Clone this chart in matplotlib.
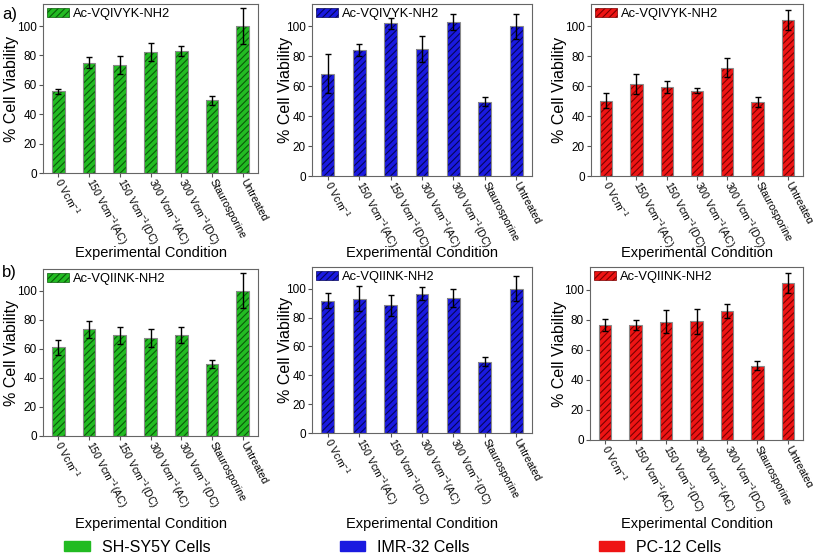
import numpy as np
import matplotlib
matplotlib.use('Agg')
import matplotlib.pyplot as plt
from matplotlib.patches import Patch
from matplotlib.transforms import ScaledTranslation

plt.rcParams['font.family'] = ['Liberation Sans', 'DejaVu Sans']
plt.rcParams['mathtext.fontset'] = 'custom'
plt.rcParams['mathtext.rm'] = 'Liberation Sans'
plt.rcParams['mathtext.it'] = 'Liberation Sans:italic'
plt.rcParams['mathtext.bf'] = 'Liberation Sans:bold'
plt.rcParams['hatch.linewidth'] = 0.8

conditions = ['0 Vcm$^{-1}$', '150 Vcm$^{-1}$(AC)', '150 Vcm$^{-1}$(DC)',
              '300 Vcm$^{-1}$(AC)', '300 Vcm$^{-1}$(DC)', 'Staurosporine', 'Untreated']

# a) Ac-VQIVYK-NH2
vqivyk_shsy5y = [55.5, 75.0, 73.7, 82.4, 83.0, 49.5, 100.0]
vqivyk_shsy5y_err = [2.0, 3.7, 6.0, 6.0, 3.5, 3.0, 12.0]
vqivyk_imr32 = [68.3, 84.0, 102.0, 85.0, 103.0, 49.5, 100.0]
vqivyk_imr32_err = [13.0, 4.0, 3.7, 8.5, 5.5, 3.0, 8.5]
vqivyk_pc12 = [50.3, 61.5, 59.6, 57.1, 72.4, 49.5, 104.2]
vqivyk_pc12_err = [5.0, 6.7, 3.9, 1.8, 6.3, 3.2, 6.7]

# b) Ac-VQIINK-NH2
vqiink_shsy5y = [61.0, 73.4, 69.3, 67.7, 69.3, 49.5, 100.0]
vqiink_shsy5y_err = [5.3, 5.7, 6.0, 6.3, 5.6, 3.0, 12.0]
vqiink_imr32 = [91.7, 93.1, 88.5, 96.6, 93.6, 49.5, 100.0]
vqiink_imr32_err = [5.0, 8.7, 7.4, 4.4, 6.0, 3.0, 8.6]
vqiink_pc12 = [76.2, 76.7, 78.7, 78.9, 85.6, 49.5, 104.4]
vqiink_pc12_err = [4.0, 3.3, 7.4, 8.2, 4.7, 3.2, 6.7]

peptides = ['Ac-VQIVYK-NH2', 'Ac-VQIINK-NH2']
cell_lines = ['SH-SY5Y Cells', 'IMR-32 Cells', 'PC-12 Cells']

panels = [
    [(vqivyk_shsy5y, vqivyk_shsy5y_err), (vqivyk_imr32, vqivyk_imr32_err), (vqivyk_pc12, vqivyk_pc12_err)],
    [(vqiink_shsy5y, vqiink_shsy5y_err), (vqiink_imr32, vqiink_imr32_err), (vqiink_pc12, vqiink_pc12_err)],
]

face_colors = ['#22bb22', '#1a1ae0', '#ee1414']
hatch_colors = ['#0a5a0a', '#05055a', '#7a0000']

W, H = 813, 554
# axes boxes in pixels: left, right, top, bottom
boxes = [
    [(43, 258, 4, 173), (312, 532, 4, 176), (591, 803, 4, 176)],
    [(43, 258, 269, 436), (312, 532, 267, 433), (590, 803, 267, 440)],
]
ylab_x = [12, 285, 559]

fig = plt.figure(figsize=(W / 100, H / 100), dpi=100)
x = np.arange(len(conditions))
shift_left = ScaledTranslation(-5 / 100, 0, fig.dpi_scale_trans)

for r in range(2):
    for c in range(3):
        l, rt, t, b = boxes[r][c]
        ax = fig.add_axes([l / W, 1 - b / H, (rt - l) / W, (b - t) / H])
        vals, errs = panels[r][c]
        ax.bar(x, vals, width=0.41, color=face_colors[c], edgecolor=hatch_colors[c],
               hatch='/////', linewidth=0, zorder=2)
        ax.bar(x, vals, width=0.41, fill=False, edgecolor='#8a8a8a', linewidth=0.8, zorder=3)
        ax.errorbar(x, vals, yerr=errs, fmt='none', ecolor='black', elinewidth=1,
                    capsize=2.5, capthick=1, zorder=4)
        ax.set_xlim(-0.5, 6.5)
        ax.set_ylim(0, 115)
        ax.set_yticks([0, 20, 40, 60, 80, 100])
        ax.set_xticks(x)
        ax.set_xticklabels(conditions, rotation=-62, ha='left', va='center',
                           rotation_mode='anchor', fontsize=7.6)
        for lbl in ax.get_xticklabels():
            lbl.set_transform(lbl.get_transform() + shift_left)
        ax.tick_params(axis='x', length=3, width=0.8, pad=1.5, color='#555555')
        ax.tick_params(axis='y', length=3, width=0.8, labelsize=8.5, pad=1.5, color='#555555')
        for sp in ax.spines.values():
            sp.set_color('#666666')
            sp.set_linewidth(0.8)
        ax.set_ylabel('% Cell Viability', fontsize=11.5)
        ax.yaxis.label.set_va('center')
        ax.yaxis.set_label_coords((ylab_x[c] - l) / (rt - l), 0.5)
        ax.set_xlabel('Experimental Condition', fontsize=10.5)
        ax.xaxis.label.set_va('center')
        ylab_pos = 253 if r == 0 else 524
        ax.xaxis.set_label_coords(0.5, (b - ylab_pos) / (b - t))
        handle = Patch(facecolor=face_colors[c], edgecolor=hatch_colors[c], hatch='/////', linewidth=0.5)
        ax.legend([handle], [peptides[r]], loc='upper left', frameon=False, fontsize=9.3,
                  handlelength=1.7, handleheight=0.75, handletextpad=0.3,
                  borderpad=0.1, borderaxespad=0.2)

fig.text(2 / W, 1 - 15 / H, 'a)', fontsize=12, va='center', ha='left')
fig.text(2 / W, 1 - 272 / H, 'b)', fontsize=12, va='center', ha='left')

cell_handles = [Patch(facecolor=fc, edgecolor=fc) for fc in face_colors]
fig.legend(cell_handles, cell_lines, loc='center left', bbox_to_anchor=(64 / W, 1 - 547 / H),
           ncol=3, frameon=False, fontsize=11.5, handlelength=1.6, handleheight=0.62,
           handletextpad=0.75, columnspacing=8.1, borderpad=0, borderaxespad=0)

fig.savefig('out.png', dpi=100)
